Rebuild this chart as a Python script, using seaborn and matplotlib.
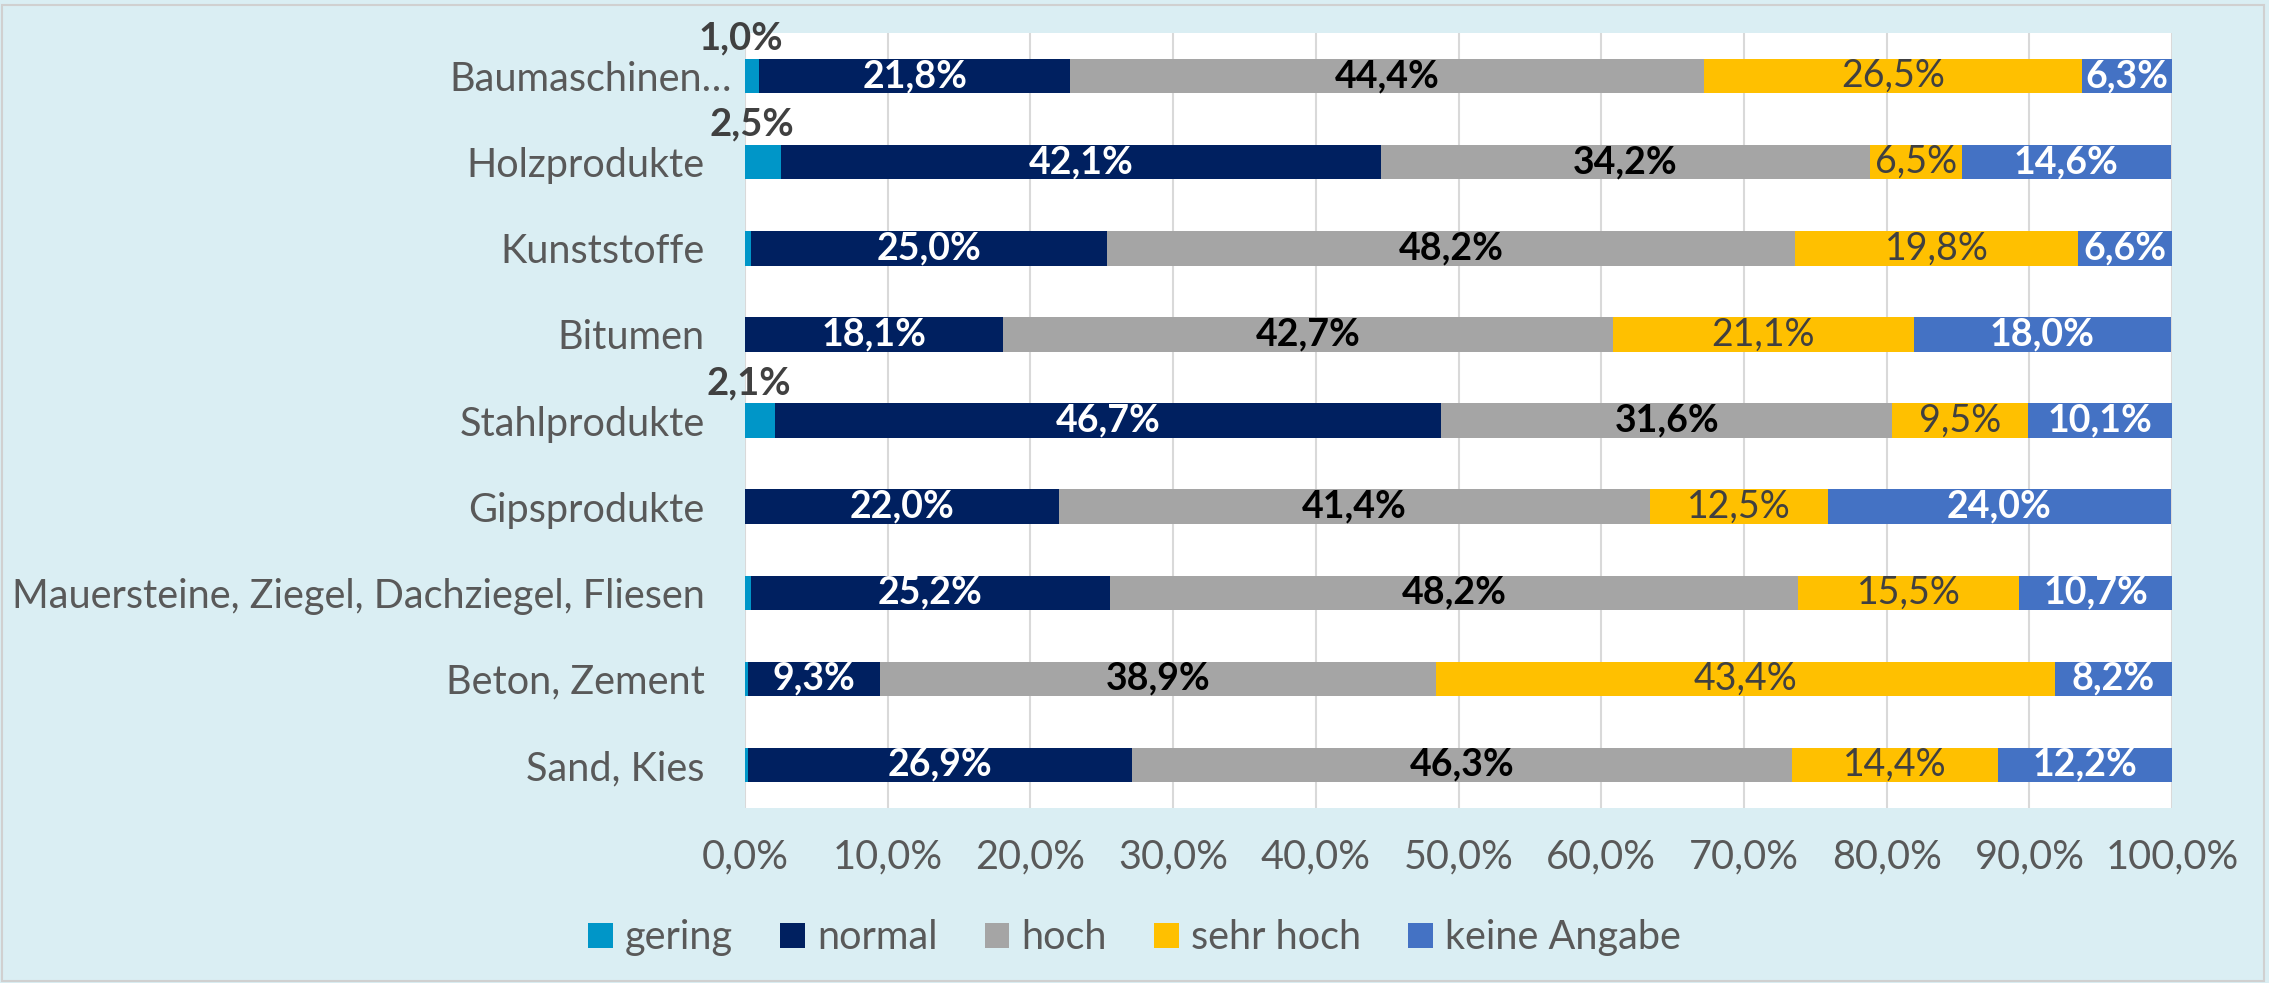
import numpy as np
import matplotlib.pyplot as plt
import seaborn as sns
from matplotlib.patches import Patch, Rectangle
from matplotlib.ticker import FuncFormatter
from matplotlib.transforms import ScaledTranslation

# Data (percent)
categories = ['Baumaschinen…', 'Holzprodukte', 'Kunststoffe', 'Bitumen', 'Stahlprodukte',
              'Gipsprodukte', 'Mauersteine, Ziegel, Dachziegel, Fliesen', 'Beton, Zement', 'Sand, Kies']
gering = [1.0, 2.5, 0.4, 0.0, 2.1, 0.0, 0.4, 0.2, 0.2]
normal = [21.8, 42.1, 25.0, 18.1, 46.7, 22.0, 25.2, 9.3, 26.9]
hoch = [44.4, 34.2, 48.2, 42.7, 31.6, 41.4, 48.2, 38.9, 46.3]
sehr_hoch = [26.5, 6.5, 19.8, 21.1, 9.5, 12.5, 15.5, 43.4, 14.4]
keine_angabe = [6.3, 14.6, 6.6, 18.0, 10.1, 24.0, 10.7, 8.2, 12.2]
series_names = ['gering', 'normal', 'hoch', 'sehr hoch', 'keine Angabe']
colors = ['#0096C8', '#002060', '#A5A5A5', '#FFC000', '#4472C4']

sns.set_theme(style='white')
plt.rcParams['font.family'] = ['Lato', 'DejaVu Sans']

values = np.array([gering, normal, hoch, sehr_hoch, keine_angabe]).T
cum = values.cumsum(axis=1)

fig = plt.figure(figsize=(22.69, 9.83), dpi=100, facecolor='#DAEEF3')
ax = fig.add_axes([0.3283, 0.178, 0.9573 - 0.3283, 0.9664 - 0.178])
ax.set_facecolor('white')

# stacked bars: draw cumulative totals from the largest down
for j in range(len(series_names) - 1, -1, -1):
    sns.barplot(x=cum[:, j], y=categories, color=colors[j], saturation=1,
                width=0.4, orient='h', errorbar=None, linewidth=0, ax=ax)

fs = 27
fs_ax = 28.5
def fmt(v):
    return f"{v:.1f}".replace('.', ',') + '%'

for i in range(len(categories)):
    for j in range(len(series_names)):
        v = values[i, j]
        left = cum[i, j] - v
        xc = left + v / 2
        if j == 0:
            if v >= 1:
                ax.annotate(fmt(v), (xc, i), xytext=(-8, 27), textcoords='offset points',
                            ha='center', va='center', fontsize=fs + 0.5, fontweight='bold', color='#404040')
        elif j == 1 or j == 4:
            ax.text(xc, i, fmt(v), ha='center', va='center', fontsize=fs,
                    fontweight='bold', color='white')
        elif j == 2:
            ax.text(xc, i, fmt(v), ha='center', va='center', fontsize=fs,
                    fontweight='bold', color='black')
        else:
            ax.text(xc, i, fmt(v), ha='center', va='center', fontsize=fs, color='#404040')

ax.set_xlim(0, 100)
ax.set_ylim(len(categories) - 0.5, -0.5)
ax.set_xticks(np.arange(0, 101, 10))
ax.xaxis.set_major_formatter(FuncFormatter(lambda x, p: f"{x:.1f}".replace('.', ',') + '%'))
ax.set_xlabel('')
ax.set_ylabel('')
ax.xaxis.grid(True, color='#D9D9D9', linewidth=1.5)
ax.yaxis.grid(False)
ax.set_axisbelow(True)
for s in ax.spines.values():
    s.set_visible(False)
ax.tick_params(axis='y', length=0, pad=29, labelsize=fs_ax, labelcolor='#595959')
ax.tick_params(axis='x', length=0, pad=22, labelsize=fs_ax, labelcolor='#595959')

# the first label sits a bit closer to the bars
lbl = ax.get_yticklabels()[0]
lbl.set_transform(lbl.get_transform() + ScaledTranslation(0.27, 0, fig.dpi_scale_trans))

handles = [Patch(facecolor=c, edgecolor='none') for c in colors]
leg = fig.legend(handles, series_names, loc='center', bbox_to_anchor=(0.5, 0.046), ncol=5,
                 frameon=False, fontsize=fs_ax, handlelength=0.62, handleheight=0.62,
                 handletextpad=0.3, columnspacing=1.2)
for t in leg.get_texts():
    t.set_color('#595959')

fig.patches.append(Rectangle((0.001, 0.002), 0.997, 0.993, transform=fig.transFigure,
                             fill=False, edgecolor='#D0D0D0', linewidth=1.5))

fig.savefig('out.png', dpi=100, facecolor=fig.get_facecolor())
